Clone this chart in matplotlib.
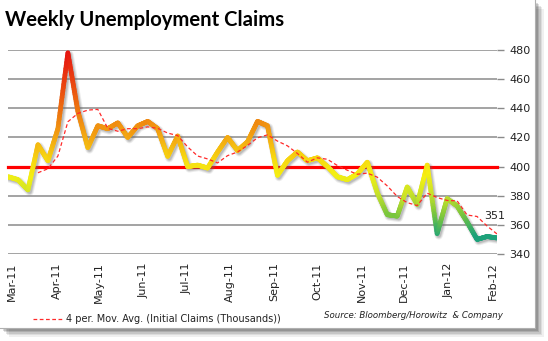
import numpy as np
import pandas as pd
import matplotlib
matplotlib.use("Agg")
import matplotlib.pyplot as plt
import matplotlib.dates as mdates
from matplotlib.collections import LineCollection
from matplotlib.colors import LinearSegmentedColormap, Normalize
from matplotlib.lines import Line2D
from matplotlib.patches import Rectangle
import matplotlib.transforms as mtransforms

# Weekly initial jobless claims (thousands), week ending Saturdays
first_week = "2011-02-26"
claims = [393, 391, 384, 415, 404, 426, 478, 438, 413, 428,
          426, 430, 420, 428, 431, 426, 407, 421, 400, 401,
          399, 410, 420, 411, 417, 431, 428, 394, 404, 410,
          404, 406, 400, 393, 391, 395, 403, 382, 367, 366,
          386, 374, 401, 354, 378, 373, 362, 350, 352, 351]
threshold = 400
y_ticks = [340, 360, 380, 400, 420, 440, 460, 480]
title = "Weekly Unemployment Claims"
legend_label = "4 per. Mov. Avg. (Initial Claims (Thousands))"
source_label = "Source: Bloomberg/Horowitz  & Company"

dates = pd.date_range(first_week, periods=len(claims), freq="7D")
series = pd.Series(claims, index=dates, dtype=float)
moving_avg = series.rolling(4).mean()

W, H = 548, 341
fig = plt.figure(figsize=(W / 100, H / 100), dpi=100)
fig.patch.set_facecolor("white")

# framed card with a soft drop shadow on the right and bottom
for i, a in enumerate([0.06, 0.08, 0.10, 0.12, 0.14]):
    off = 9 - i * 1.6
    fig.patches.append(Rectangle((off, 13 - off), 535, 341 - 13, transform=None,
                                 facecolor="black", alpha=a, edgecolor="none", zorder=0))
fig.patches.append(Rectangle((-2, 13), 537, 341, transform=None,
                             facecolor="white", edgecolor="#b0b0b0", lw=0.8, zorder=0.5))

ax = fig.add_axes([8 / W, 1 - 254 / H, (497 - 8) / W, (254 - 50) / H])
ax.set_facecolor("none")
ax.set_zorder(2)

x = mdates.date2num(dates)
y = np.asarray(claims, dtype=float)

ax.set_xlim(x[0], x[-1])
ax.set_ylim(340, 480)

# gridlines
for t in y_ticks:
    if t != threshold:
        ax.axhline(t, color="#8a8a8a", lw=1.1, zorder=1)

# 400k reference line
ax.axhline(threshold, color="#ff0000", lw=2.3, zorder=2, clip_on=False)

# drop shadow under the main series
shadow_tr = mtransforms.offset_copy(ax.transData, fig=fig, x=1.6, y=-1.8, units="dots")
for lw, a in [(6.0, 0.12), (4.5, 0.18), (3.2, 0.22)]:
    ax.plot(x, y, color="#6a6a6a", lw=lw, alpha=a, transform=shadow_tr,
            solid_joinstyle="round", solid_capstyle="round", zorder=3)

# main series coloured by level: teal-green (low) -> yellow -> orange -> red (high)
stops = [(340, "#0b957c"), (352, "#1fa37a"), (366, "#78c53e"), (380, "#c8e22a"),
         (394, "#f5f012"), (405, "#f7d810"), (420, "#f3a812"), (435, "#ee7e10"),
         (455, "#ea4a10"), (480, "#e61010")]
lo, hi = stops[0][0], stops[-1][0]
cmap = LinearSegmentedColormap.from_list(
    "claims", [((v - lo) / (hi - lo), c) for v, c in stops])
norm = Normalize(lo, hi)

n_sub = 24
segs, vals = [], []
for i in range(len(x) - 1):
    xs = np.linspace(x[i], x[i + 1], n_sub + 1)
    ys = np.linspace(y[i], y[i + 1], n_sub + 1)
    for j in range(n_sub):
        segs.append([(xs[j], ys[j]), (xs[j + 1], ys[j + 1])])
        vals.append(0.5 * (ys[j] + ys[j + 1]))
lc = LineCollection(segs, cmap=cmap, norm=norm, linewidths=3.4,
                    capstyle="round", joinstyle="round", zorder=4)
lc.set_array(np.asarray(vals))
ax.add_collection(lc)

# 4-period moving average
ax.plot(x, moving_avg.values, color="#ff2a2a", lw=0.9, ls=(0, (3, 2)), zorder=5)

# latest value label
ax.annotate(f"{claims[-1]}", xy=(x[-1], y[-1]), xytext=(-2, 12),
            textcoords="offset points", ha="center", va="bottom",
            fontsize=8, color="#222222", zorder=6)

# axes styling
for s in ax.spines.values():
    s.set_visible(False)
ax.yaxis.tick_right()
ax.set_yticks(y_ticks)
ax.tick_params(axis="y", length=5, width=1, color="#8a8a8a", pad=4,
               labelsize=8, labelcolor="#222222")
months = pd.date_range("2011-03-01", "2012-02-01", freq="MS")
ax.set_xticks(mdates.date2num(months))
ax.xaxis.set_major_formatter(mdates.DateFormatter("%b-%y"))
ax.tick_params(axis="x", length=0, pad=6, labelsize=8, labelcolor="#222222",
               labelrotation=90)

# title
fig.text(5 / W, 1 - 26 / H, title, fontsize=14.6, fontweight="bold",
         family="Lato", color="black", va="baseline", ha="left")

# legend entry
fig.add_artist(Line2D([33 / W, 64 / W], [1 - 319 / H] * 2, color="#ff2a2a",
                      lw=0.9, ls=(0, (3, 2))))
fig.text(66 / W, 1 - 319 / H, legend_label, fontsize=7, color="#222222",
         va="center", ha="left")

# source note
fig.text(503 / W, 1 - 316 / H, source_label, fontsize=6.2, style="italic",
         color="#222222", va="center", ha="right")

fig.savefig("out.png", dpi=100)
